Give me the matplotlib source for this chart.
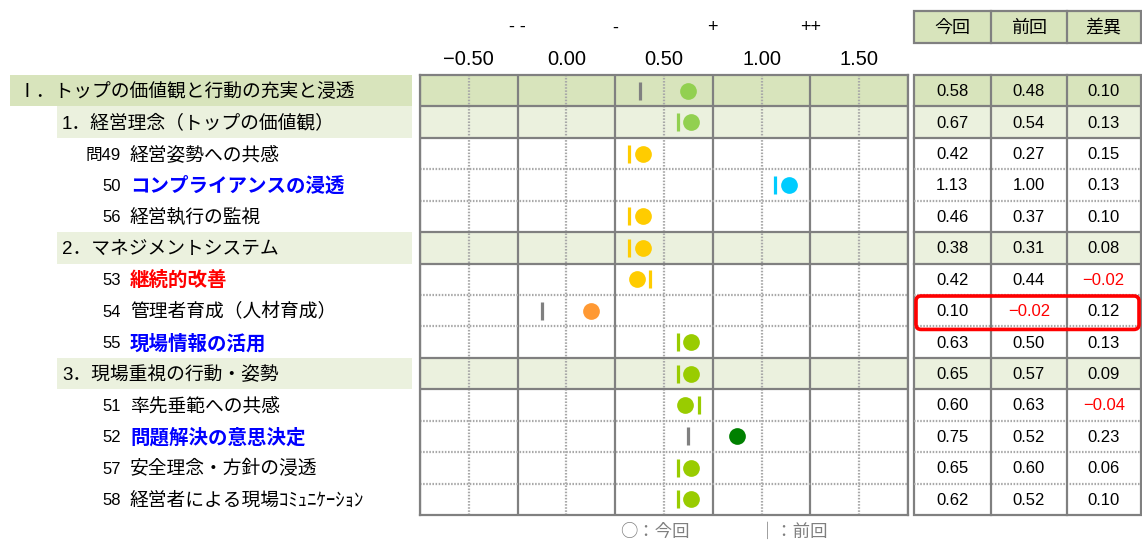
import numpy as np
import matplotlib.pyplot as plt
from matplotlib.patches import Rectangle, FancyBboxPatch
from matplotlib.ticker import FuncFormatter

plt.rcParams['font.family'] = ['Liberation Sans', 'Noto Sans CJK JP', 'DejaVu Sans']

# --- data ---
# row kind: 0 = section, 1 = subsection, 2 = question
row_kinds = [0, 1, 2, 2, 2, 1, 2, 2, 2, 1, 2, 2, 2, 2]
row_numbers = ['', '', '問49', '50', '56', '', '53', '54', '55', '', '51', '52', '57', '58']
row_labels = ['Ⅰ．トップの価値観と行動の充実と浸透', '1．経営理念（トップの価値観）',
              '経営姿勢への共感', 'コンプライアンスの浸透', '経営執行の監視',
              '2．マネジメントシステム', '継続的改善', '管理者育成（人材育成）',
              '現場情報の活用', '3．現場重視の行動・姿勢', '率先垂範への共感',
              '問題解決の意思決定', '安全理念・方針の浸透', '経営者による現場ｺﾐｭﾆｹｰｼｮﾝ']
current = [0.58, 0.67, 0.42, 1.13, 0.46, 0.38, 0.42, 0.10, 0.63, 0.65, 0.60, 0.75, 0.65, 0.62]
previous = [0.48, 0.54, 0.27, 1.00, 0.37, 0.31, 0.44, -0.02, 0.50, 0.57, 0.63, 0.52, 0.60, 0.52]
difference = [0.10, 0.13, 0.15, 0.13, 0.10, 0.08, -0.02, 0.12, 0.13, 0.09, -0.04, 0.23, 0.06, 0.10]
xticks = [-0.5, 0.0, 0.5, 1.0, 1.5]
grade_pos = [-0.25, 0.25, 0.75, 1.25]
grade_labels = ['- -', '-', '+', '++']
table_headers = ['今回', '前回', '差異']

# --- styles ---
label_colors = {3: '#0000FF', 8: '#0000FF', 11: '#0000FF', 6: '#FF0000'}
dot_colors = ['#92D050', '#92D050', '#FFCC00', '#00CCFF', '#FFCC00', '#FFCC00', '#FFCC00',
              '#FF9933', '#99CC00', '#99CC00', '#99CC00', '#008000', '#99CC00', '#99CC00']
row_bg = {0: '#D8E4BC', 1: '#EBF1DE'}
GRID = '#808080'
DOT_GRID = '#A8A8A8'
JP = ['Noto Sans CJK JP', 'DejaVu Sans']

W, H = 1142, 543
TOP, BOT = 75, 515
n = len(row_kinds)
row_h = (BOT - TOP) / n
XMIN, XMAX, STEP = -0.75, 1.75, 0.25
TY = 1.5  # small downward nudge for text in pixel overlay

fig = plt.figure(figsize=(W / 100, H / 100), dpi=100)
ax = fig.add_axes([420 / W, (H - BOT) / H, 488 / W, (BOT - TOP) / H])
ax.set_xlim(XMIN, XMAX)
ax.set_ylim(n, 0)
ax.set_yticks([])

for i, k in enumerate(row_kinds):
    if k in row_bg:
        ax.axhspan(i, i + 1, color=row_bg[k], lw=0, zorder=0)

# vertical grid: solid every 0.5, dotted in between
for j, xv in enumerate(np.arange(XMIN, XMAX + 1e-9, STEP)):
    if j % 2 == 0:
        ax.axvline(xv, color=GRID, lw=1.6, zorder=1)
    else:
        ax.axvline(xv, color=DOT_GRID, lw=1.6, ls=(0, (0.7, 0.7)), zorder=1)


def line_style(i):
    # boundary between row i-1 and row i
    if row_kinds[i - 1] < 2 or row_kinds[i] < 2:
        return dict(color=GRID, lw=1.6, ls='-')
    return dict(color=DOT_GRID, lw=1.6, ls=(0, (0.7, 0.7)))


for i in range(1, n):
    ax.axhline(i, zorder=1, **line_style(i))
for s in ax.spines.values():
    s.set_color(GRID)
    s.set_linewidth(1.6)

# marks: snapped to the 0.25 cell they fall in
def cell_center(v):
    return XMIN + STEP * np.floor((v - XMIN) / STEP) + STEP / 2


for i in range(n):
    cc, pc = cell_center(current[i]), cell_center(previous[i])
    dx, bx, bcol = cc, pc, '#808080'
    if np.isclose(cc, pc):
        bcol = dot_colors[i]
        sign = 1 if previous[i] <= current[i] else -1
        dx = cc + sign * 0.015
        bx = cc - sign * 0.055
    ax.plot(bx, i + 0.5, marker='|', ms=13.5, mew=2.3, color=bcol, zorder=3)
    ax.scatter(dx, i + 0.5, s=145, color=dot_colors[i], lw=0, zorder=4)

ax.xaxis.tick_top()
ax.set_xticks(xticks)
ax.xaxis.set_major_formatter(FuncFormatter(lambda v, _: f'{v:.2f}'.replace('-', '\u2212')))
ax.tick_params(axis='x', length=0, pad=4, labelsize=14.5)
for xv, lab in zip(grade_pos, grade_labels):
    ax.text(xv, 1 + (TOP - 28) / (BOT - TOP), lab, transform=ax.get_xaxis_transform(),
            ha='center', va='center', fontsize=13)

# --- overlay in pixel coordinates: labels and table ---
ov = fig.add_axes([0, 0, 1, 1], zorder=2)
ov.set_xlim(0, W)
ov.set_ylim(H, 0)
ov.axis('off')
ov.patch.set_alpha(0)

for i, k in enumerate(row_kinds):
    yc = TOP + row_h * (i + 0.5) + TY
    if k == 0:
        ov.add_patch(Rectangle((10, TOP + row_h * i), 402, row_h, color=row_bg[0], lw=0))
        ov.text(18, yc, row_labels[i], va='center', fontsize=13.5)
    elif k == 1:
        ov.add_patch(Rectangle((57, TOP + row_h * i), 355, row_h, color=row_bg[1], lw=0))
        ov.text(62, yc, row_labels[i], va='center', fontsize=13.5)
    else:
        ov.text(121, yc, row_numbers[i], va='center', ha='right', fontsize=12)
        if i in label_colors:
            ov.text(130, yc, row_labels[i], va='center', fontsize=14,
                    color=label_colors[i], fontweight='bold')
        else:
            ov.text(130, yc, row_labels[i], va='center', fontsize=13.5)

# table
col_x = [914, 990.7, 1067, 1140.5]
col_c = [(col_x[c] + col_x[c + 1]) / 2 for c in range(3)]
ov.add_patch(Rectangle((col_x[0], 11), col_x[3] - col_x[0], 32, fc=row_bg[0], ec=GRID, lw=1.6))
for c in range(3):
    ov.text(col_c[c], 27 + TY, table_headers[c], ha='center', va='center', fontsize=13)
for xv in col_x[1:3]:
    ov.plot([xv, xv], [11, 43], color=GRID, lw=1.6)

for i, k in enumerate(row_kinds):
    y0 = TOP + row_h * i
    if k in row_bg:
        ov.add_patch(Rectangle((col_x[0], y0), col_x[3] - col_x[0], row_h, color=row_bg[k], lw=0, zorder=0))
    vals = [current[i], previous[i], difference[i]]
    for c, v in enumerate(vals):
        txt = f'{v:.2f}'.replace('-', '\u2212')
        ov.text(col_c[c], y0 + row_h / 2 + 1, txt, ha='center', va='center', fontsize=12,
                color='#FF0000' if v < 0 else 'black')
    if i > 0:
        ov.plot([col_x[0], col_x[3]], [y0, y0], **line_style(i))
for xv in col_x[1:3]:
    ov.plot([xv, xv], [TOP, BOT], color=GRID, lw=1.6)
ov.add_patch(Rectangle((col_x[0], TOP), col_x[3] - col_x[0], BOT - TOP, fc='none', ec=GRID, lw=1.6))

# highlight row 54
y54 = TOP + row_h * 7
ov.add_patch(FancyBboxPatch((916, y54 + 1), 223, row_h + 2,
                            boxstyle='round,pad=0,rounding_size=5', ec='#FF0000', fc='none', lw=2.6, zorder=5))

# legend
ov.text(655, 532, '○：今回', ha='center', va='center', fontsize=12.5, color='#7F7F7F', family=JP)
ov.text(793, 532, '｜：前回', ha='center', va='center', fontsize=12.5, color='#7F7F7F', family=JP)

fig.savefig('out.png', dpi=100)
